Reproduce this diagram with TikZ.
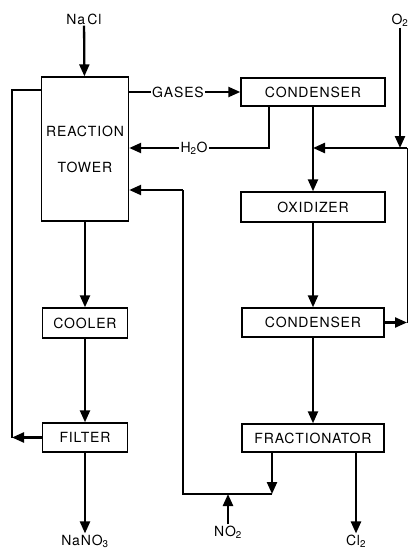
\documentclass[tikz,border=0pt]{standalone}
\usepackage{fontspec}
\setmainfont{TeX Gyre Heros}[LetterSpace=6]
\usetikzlibrary{arrows.meta, positioning}

\begin{document}
\begin{tikzpicture}[x=1pt, y=-1pt,
  box/.style={
    rectangle, draw=black, line width=1.4pt,
    align=center, inner sep=0pt,
    font=\fontsize{14}{16}\selectfont
  },
  lbl/.style={inner sep=1pt, font=\fontsize{14}{16}\selectfont},
  arr/.style={-{Triangle[length=12pt,width=10pt]}, line width=2.3pt},
  pipe/.style={line width=2.3pt}
]
  \useasboundingbox (0,0) rectangle (409,551);

  % left column
  \node[box, minimum width=87pt, minimum height=144pt] (tower) at (85,149) {REACTION\\[20pt]TOWER};
  \node[box, minimum width=85pt, minimum height=30pt] (cooler) at (85,323) {COOLER};
  \node[box, minimum width=85pt, minimum height=29pt] (filter) at (85,437.5) {FILTER};

  % right column
  \node[box, minimum width=144pt, minimum height=28pt] (cond1) at (313,92) {CONDENSER};
  \node[box, minimum width=144pt, minimum height=30pt] (oxid) at (313,207) {OXIDIZER};
  \node[box, minimum width=142pt, minimum height=29pt] (cond2) at (313,322.5) {CONDENSER};
  \node[box, minimum width=142pt, minimum height=28pt] (frac) at (313,438) {FRACTIONATOR};

  % streams in and out
  \node[lbl] (nacl) at (84,19) {Na\,Cl};
  \node[lbl] (o2) at (400,20) {O\textsubscript{2}};
  \node[lbl] (gases) at (178,92) {GASES};
  \node[lbl] (h2o) at (194,148) {H\textsubscript{2}O};
  \node[lbl] (no2) at (228,532) {NO\textsubscript{2}};
  \node[lbl] (nano3) at (85,541) {NaNO\textsubscript{3}};
  \node[lbl] (cl2) at (356,541) {Cl\textsubscript{2}};

  \coordinate (lb) at (12,437.5);
  \coordinate (lt) at (12,90);
  \coordinate (hc) at (269,148);
  \coordinate (oj) at (400,148);
  \coordinate (rc) at (407,148);
  \coordinate (rb) at (407,322.5);
  \coordinate (fb) at (272,494);
  \coordinate (bl) at (183,494);
  \coordinate (bt) at (183,190);

  \draw[arr] (nacl) -- (tower);
  \draw[arr] (tower) -- (cooler);
  \draw[arr] (cooler) -- (filter);
  \draw[arr] (filter) -- (nano3);
  \draw[arr] (filter) -- (lb);
  \draw[pipe] (lb) -- (lt) -- (lt -| tower.west);

  \draw[pipe] (tower.east |- gases) -- (gases);
  \draw[arr] (gases) -- (cond1);
  \draw[pipe] (cond1.south -| hc) -- (hc) -- (h2o);
  \draw[arr] (h2o) -- (h2o -| tower.east);

  \draw[arr] (cond1) -- (oxid);
  \draw[arr] (o2) -- (oj);
  \draw[arr] (rc) -- (oj -| oxid);
  \draw[arr] (oxid) -- (cond2);
  \draw[arr] (cond2) -- (rb);
  \draw[line width=0.8pt] (rb) -- (rc);
  \draw[arr] (cond2) -- (frac);

  \draw[arr] (frac.south -| cl2) -- (cl2);
  \draw[arr] (frac.south -| fb) -- (fb);
  \draw[pipe] (fb) -- (bl) -- (bt);
  \draw[arr] (bt) -- (bt -| tower.east);
  \draw[arr] (no2) -- (no2 |- fb);
\end{tikzpicture}
\end{document}
